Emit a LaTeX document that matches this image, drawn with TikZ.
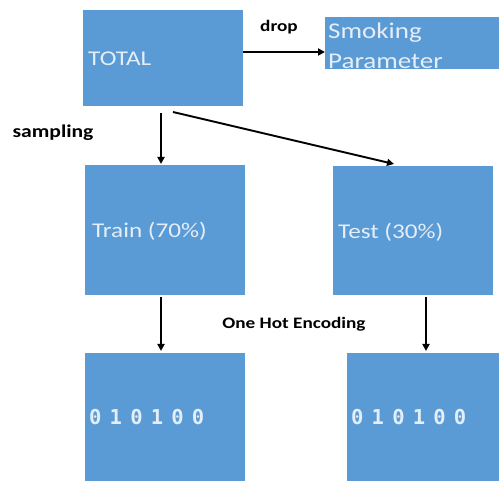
\documentclass[tikz,border=0pt]{standalone}
\usepackage{fontspec}
\setmainfont{Carlito}
\newfontfamily\boxfont{Carlito}[FakeStretch=1.2]
\newfontfamily\digfont{DejaVu Sans Mono}[LetterSpace=40]
\usetikzlibrary{arrows.meta}
\definecolor{boxblue}{HTML}{5B9BD5}
\definecolor{boxtext}{HTML}{E4EEF8}
\begin{document}
\begin{tikzpicture}[x=1pt,y=-1pt,
  blue box/.style={fill=boxblue, draw=none, inner sep=0pt, anchor=north west},
  box text/.style={text=boxtext, anchor=west, inner sep=0pt, font=\boxfont\fontsize{21}{28}\selectfont, align=left},
  dig text/.style={text=boxtext, anchor=west, inner sep=0pt, font=\digfont\bfseries\fontsize{20.5}{24}\selectfont},
  lab/.style={text=black, inner sep=0pt, font=\boxfont\bfseries\fontsize{16}{19}\selectfont},
  arr/.style={-{Triangle[length=7pt,width=7pt]}, line width=1.9pt, black}]
\useasboundingbox (0,0) rectangle (499,481);
\fill[white] (0,0) rectangle (499,481);
% boxes
\node[blue box, minimum width=160pt, minimum height=96pt] (total) at (83,10) {};
\node[blue box, minimum width=174pt, minimum height=52pt] (smoke) at (325,17) {};
\node[blue box, minimum width=160pt, minimum height=130pt] (train) at (85,165) {};
\node[blue box, minimum width=160pt, minimum height=129pt] (test) at (333,166) {};
\node[blue box, minimum width=160pt, minimum height=128pt] (trainenc) at (85,353) {};
\node[blue box, minimum width=152pt, minimum height=128pt] (testenc) at (347,353) {};
% texts
\node[box text] (totalt) at (88,59) {TOTAL};
\node[box text, font=\boxfont\fontsize{22.5}{30}\selectfont] (smoket) at (328,46) {Smoking\\Parameter};
\node[box text] (traint) at (92,231) {Train (70\%)};
\node[box text] (testt) at (338,232) {Test (30\%)};
\node[dig text] (traind) at (89,417) {010100};
\node[dig text] (testd) at (351,417) {010100};
% labels
\node[lab] (drop) at (279,27) {drop};
\node[lab, font=\boxfont\bfseries\fontsize{18}{21}\selectfont] (samp) at (53,133) {sampling};
\node[lab] (ohe) at (294,324) {One Hot Encoding};
% connectors
\coordinate (a1) at (total.east |- 0,52);
\coordinate (a2) at (smoke.west |- 0,52);
\draw[arr] (a1) -- (a2);
\coordinate (b1) at (161,113);
\coordinate (b2) at (161,164);
\draw[arr] (b1) -- (b2);
\coordinate (c1) at (173,112);
\coordinate (c2) at (394,164);
\draw[arr] (c1) -- (c2);
\coordinate (d1) at (161,297);
\coordinate (d2) at (161,351);
\draw[arr] (d1) -- (d2);
\coordinate (e1) at (426,297);
\coordinate (e2) at (426,351);
\draw[arr] (e1) -- (e2);
\end{tikzpicture}
\end{document}
